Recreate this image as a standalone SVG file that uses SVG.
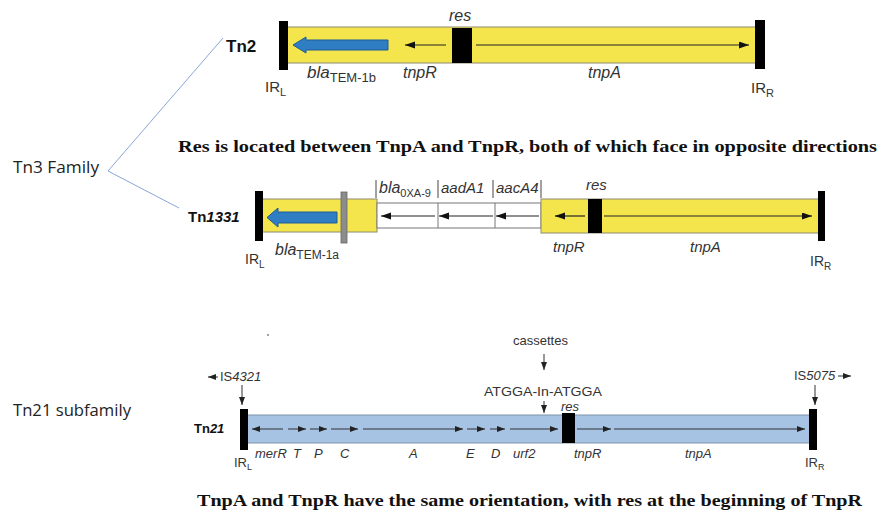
<svg xmlns="http://www.w3.org/2000/svg" width="881" height="514" viewBox="0 0 881 514">
  <style>
    .lbl { font-family: "Liberation Sans", Arial, sans-serif; fill: #333; }
    .it { font-style: italic; }
    .bold { font-weight: bold; fill: #111; }
    .side { font-family: "Open Sans", "Liberation Sans", sans-serif; font-size: 17px; fill: #222; }
    .note { font-family: "Liberation Serif", "Times New Roman", serif; font-weight: bold; font-size: 17px; fill: #111; }
    .yband { fill: #f5e54c; stroke: #8c8a70; stroke-width: 1; }
    .bband { fill: #a6c3e4; stroke: #7f94aa; stroke-width: 1; }
    .ir { fill: #000; }
    .gene { stroke: #222; stroke-width: 1.2; fill: none; }
    .gene21 { stroke: #333; stroke-width: 1; fill: none; }
    .bla { fill: #2f7dc2; stroke: #1d5d98; stroke-width: 1; }
    .brace { stroke: #8aa6d6; stroke-width: 1; fill: none; }
  </style>
  <defs>
    <marker id="ah" markerUnits="userSpaceOnUse" markerWidth="11" markerHeight="8" refX="10" refY="3.5" orient="auto">
      <path d="M0,0 L10,3.5 L0,7 z" fill="#111"/>
    </marker>
    <marker id="ahs" markerUnits="userSpaceOnUse" markerWidth="9" markerHeight="7" refX="8" refY="3" orient="auto">
      <path d="M0,0 L8,3 L0,6 z" fill="#222"/>
    </marker>
  </defs>

  <rect width="881" height="514" fill="#fff"/>

  <!-- family labels and bracket -->
  <g id="family-labels">
    <text class="side" x="13" y="173" textLength="86" lengthAdjust="spacingAndGlyphs">Tn3 Family</text>
    <text class="side" x="13" y="416" textLength="118" lengthAdjust="spacingAndGlyphs">Tn21 subfamily</text>
  </g>

  <g id="connectors">
    <polyline class="brace" points="223,38 108,171 179,208"/>
  </g>

  <!-- Tn2 -->
  <g id="tn2">
    <rect class="yband" x="284" y="27" width="476" height="36"/>
    <polygon class="bla" points="293,45 306,37 306,40 388,40 388,50 306,50 306,53"/>
    <line class="gene" x1="446" y1="45" x2="405" y2="45" marker-end="url(#ah)"/>
    <line class="gene" x1="476" y1="45" x2="749" y2="45" marker-end="url(#ah)"/>
    <rect class="ir" x="452" y="28" width="20" height="35"/>
    <rect class="ir" x="279" y="21" width="9" height="49"/>
    <rect class="ir" x="755" y="20" width="10" height="49"/>
    <text class="lbl bold" x="226" y="52" font-size="17">Tn2</text>
    <text class="lbl it" x="449" y="21" font-size="16">res</text>
    <text class="lbl" x="265" y="92" font-size="15">IR<tspan font-size="11" dy="4">L</tspan></text>
    <text class="lbl" x="307" y="78" font-size="17"><tspan class="it">bla</tspan><tspan font-size="13" dy="4">TEM-1b</tspan></text>
    <text class="lbl it" x="403" y="78" font-size="16">tnpR</text>
    <text class="lbl it" x="588" y="78" font-size="16">tnpA</text>
    <text class="lbl" x="751" y="93" font-size="15">IR<tspan font-size="11" dy="4">R</tspan></text>
  </g>

  <g id="note-tn3">
    <text class="note" x="178" y="152" textLength="699" lengthAdjust="spacingAndGlyphs">Res is located between TnpA and TnpR, both of which face in opposite directions</text>
  </g>

  <!-- Tn1331 -->
  <g id="tn1331">
    <rect class="yband" x="262" y="199" width="115" height="33"/>
    <polygon class="bla" points="267,217.5 278,208 278,212 337,212 337,223 278,223 278,227"/>
    <rect x="341" y="192" width="6" height="51" fill="#8c8c8c" stroke="#666" stroke-width="0.8"/>
    <rect x="377" y="203" width="164" height="25" fill="#fff" stroke="#777" stroke-width="1"/>
    <line x1="438" y1="203" x2="438" y2="228" stroke="#777"/>
    <line x1="495" y1="203" x2="495" y2="228" stroke="#777"/>
    <line class="gene" x1="435" y1="216" x2="381" y2="216" marker-end="url(#ah)"/>
    <line class="gene" x1="493" y1="216" x2="439" y2="216" marker-end="url(#ah)"/>
    <line class="gene" x1="539" y1="216" x2="496" y2="216" marker-end="url(#ah)"/>
    <rect class="yband" x="541" y="199" width="278" height="34"/>
    <line class="gene" x1="585" y1="216" x2="555" y2="216" marker-end="url(#ah)"/>
    <line class="gene" x1="604" y1="216" x2="812" y2="216" marker-end="url(#ah)"/>
    <rect class="ir" x="588" y="199" width="14" height="34"/>
    <rect class="ir" x="255" y="191" width="8" height="50"/>
    <rect class="ir" x="818" y="191" width="7" height="50"/>
    <g stroke="#444" stroke-width="1">
      <line x1="376" y1="180" x2="376" y2="198"/>
      <line x1="438" y1="180" x2="438" y2="198"/>
      <line x1="493" y1="180" x2="493" y2="198"/>
      <line x1="541" y1="180" x2="541" y2="198"/>
    </g>
    <text class="lbl" x="379" y="193" font-size="16"><tspan class="it">bla</tspan><tspan font-size="11" dy="4">0XA-9</tspan></text>
    <text class="lbl it" x="441" y="193" font-size="15">aadA1</text>
    <text class="lbl it" x="496" y="193" font-size="15">aacA4</text>
    <text class="lbl bold" x="188" y="222" font-size="15">Tn<tspan class="it">1331</tspan></text>
    <text class="lbl it" x="586" y="190" font-size="15">res</text>
    <text class="lbl" x="245" y="264" font-size="14">IR<tspan font-size="10" dy="4">L</tspan></text>
    <text class="lbl" x="275" y="255" font-size="16"><tspan class="it">bla</tspan><tspan font-size="12" dy="4">TEM-1a</tspan></text>
    <text class="lbl it" x="553" y="252" font-size="15">tnpR</text>
    <text class="lbl it" x="690" y="252" font-size="15">tnpA</text>
    <text class="lbl" x="810" y="266" font-size="14">IR<tspan font-size="10" dy="4">R</tspan></text>
  </g>

  <!-- Tn21 -->
  <g id="tn21">
    <circle cx="268" cy="335" r="0.9" fill="#777"/>
    <rect class="bband" x="247" y="415" width="563" height="28"/>
    <g class="gene21">
      <line x1="283" y1="429" x2="252" y2="429" marker-end="url(#ahs)"/>
      <line x1="288" y1="429" x2="306" y2="429" marker-end="url(#ahs)"/>
      <line x1="310" y1="429" x2="327" y2="429" marker-end="url(#ahs)"/>
      <line x1="331" y1="429" x2="358" y2="429" marker-end="url(#ahs)"/>
      <line x1="363" y1="429" x2="463" y2="429" marker-end="url(#ahs)"/>
      <line x1="467" y1="429" x2="485" y2="429" marker-end="url(#ahs)"/>
      <line x1="490" y1="429" x2="505" y2="429" marker-end="url(#ahs)"/>
      <line x1="510" y1="429" x2="558" y2="429" marker-end="url(#ahs)"/>
      <line x1="577" y1="429" x2="611" y2="429" marker-end="url(#ahs)"/>
      <line x1="614" y1="429" x2="805" y2="429" marker-end="url(#ahs)"/>
    </g>
    <rect class="ir" x="562" y="413" width="13" height="30"/>
    <rect class="ir" x="240" y="409" width="8" height="41"/>
    <rect class="ir" x="809" y="409" width="8" height="41"/>

    <!-- insertion markers -->
    <g class="gene21">
      <line x1="242" y1="385" x2="242" y2="405" marker-end="url(#ahs)"/>
      <line x1="815" y1="385" x2="815" y2="405" marker-end="url(#ahs)"/>
      <line x1="544" y1="401" x2="544" y2="413" marker-end="url(#ahs)"/>
      <line x1="544" y1="354" x2="544" y2="370" marker-end="url(#ahs)"/>
      <line x1="218" y1="377" x2="208" y2="377" marker-end="url(#ahs)"/>
      <line x1="838" y1="376" x2="851" y2="376" marker-end="url(#ahs)"/>
    </g>
    <text class="lbl" x="220" y="381" font-size="13">IS<tspan class="it">4321</tspan></text>
    <text class="lbl" x="794" y="380" font-size="13">IS<tspan class="it">5075</tspan></text>
    <text class="lbl" x="513" y="345" font-size="13">cassettes</text>
    <text class="lbl" x="484" y="396" font-size="13" textLength="118" lengthAdjust="spacingAndGlyphs">ATGGA-In-ATGGA</text>
    <text class="lbl it" x="561" y="411" font-size="13">res</text>

    <text class="lbl bold" x="194" y="433" font-size="13">Tn<tspan class="it">21</tspan></text>
    <text class="lbl it" x="255" y="458" font-size="13">merR</text>
    <text class="lbl it" x="293" y="458" font-size="13">T</text>
    <text class="lbl it" x="314" y="458" font-size="13">P</text>
    <text class="lbl it" x="340" y="458" font-size="13">C</text>
    <text class="lbl it" x="409" y="458" font-size="13">A</text>
    <text class="lbl it" x="466" y="458" font-size="13">E</text>
    <text class="lbl it" x="491" y="458" font-size="13">D</text>
    <text class="lbl it" x="513" y="458" font-size="13">urf2</text>
    <text class="lbl it" x="574" y="458" font-size="13">tnpR</text>
    <text class="lbl it" x="685" y="458" font-size="13">tnpA</text>
    <text class="lbl" x="234" y="467" font-size="13">IR<tspan font-size="9" dy="3">L</tspan></text>
    <text class="lbl" x="805" y="467" font-size="13">IR<tspan font-size="9" dy="3">R</tspan></text>
  </g>

  <g id="note-tn21">
    <text class="note" x="197" y="506" textLength="665" lengthAdjust="spacingAndGlyphs">TnpA and TnpR have the same orientation, with res at the beginning of TnpR</text>
  </g>
</svg>
